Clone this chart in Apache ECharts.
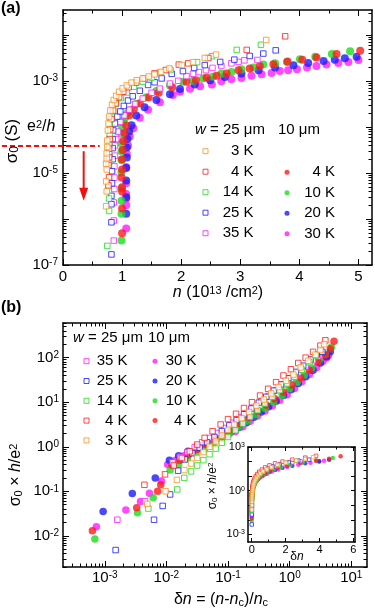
<!DOCTYPE html>
<html>
<head>
<meta charset="utf-8">
<script src="https://cdn.jsdelivr.net/npm/echarts@6/dist/echarts.min.js"></script>
<style>
html, body { margin: 0; padding: 0; background: #fff; }
#chart { width: 375px; height: 612px; }
</style>
</head>
<body>
<div id="chart"></div>
<script>
const FONT = '"Liberation Sans", Arial, Helvetica, sans-serif';
const ORANGE = '#f7941d', RED = '#ff1a1a', GREEN = '#1edc1e', BLUE = '#1a1aff', MAGENTA = '#ff1aff';

// e^2/h in S
const E2H = 3.87e-5;

// ---- (a) n (10^13 /cm^2) vs sigma0 (S) ----
// w = 25 um (open squares)
const a25_3K = [[0.73,1.9e-6],[0.74,4.0e-6],[0.73,6.6e-6],[0.74,1.2e-5],[0.73,1.6e-5],[0.74,2.1e-5],[0.74,2.7e-5],[0.75,3.7e-5],[0.75,5.1e-5],[0.76,8.5e-5],[0.77,1.2e-4],[0.78,1.7e-4],[0.8,2.3e-4],[0.83,3.1e-4],[0.86,3.9e-4],[0.9,4.8e-4],[0.95,5.9e-4],[1.01,7.0e-4],[1.08,8.1e-4],[1.16,9.3e-4],[1.25,1.05e-3],[1.35,1.15e-3],[1.45,1.27e-3],[1.55,1.4e-3],[1.66,1.6e-3],[1.8,1.9e-3],[2.01,2.25e-3],[2.2,2.6e-3],[2.4,3.2e-3],[2.59,3.8e-3],[3.44,7.9e-3]];
const a25_4K = [[0.77,5.4e-6],[0.78,8.1e-6],[0.77,1.5e-5],[0.78,2.2e-5],[0.78,3.4e-5],[0.79,5.5e-5],[0.8,9e-5],[0.82,1.5e-4],[0.85,2.3e-4],[0.89,3.3e-4],[0.95,4.5e-4],[1.02,5.9e-4],[1.11,7.4e-4],[1.24,9.3e-4],[1.38,1.15e-3],[1.55,1.48e-3],[1.74,1.75e-3],[1.96,2.3e-3],[2.12,2.45e-3],[2.46,3.2e-3],[3.11,4.8e-3],[3.76,9.5e-3]];
const a25_14K = [[0.75,2.6e-7],[0.78,1.5e-6],[0.78,2.8e-6],[0.77,4.2e-6],[0.78,1.7e-5],[0.78,2.6e-5],[0.78,4.1e-5],[0.79,6.5e-5],[0.79,1.1e-4],[0.8,1.5e-4],[0.84,2.2e-4],[0.9,3.2e-4],[0.98,4.3e-4],[1.08,5.7e-4],[1.2,7.6e-4],[1.35,9.8e-4],[1.5,1.2e-3],[1.64,1.55e-3],[1.82,1.75e-3],[2.27,2.6e-3],[2.52,3.5e-3],[2.94,4.8e-3],[3.35,6.2e-3]];
const a25_25K = [[0.82,1.7e-7],[0.82,8.5e-7],[0.82,2.1e-6],[0.82,3.2e-6],[0.83,6e-6],[0.83,1.1e-5],[0.84,2e-5],[0.84,3.5e-5],[0.84,5.5e-5],[0.85,8.5e-5],[0.88,1.2e-4],[0.92,1.7e-4],[0.97,2.2e-4],[1.03,2.9e-4],[1.1,3.8e-4],[1.18,4.7e-4],[1.3,6.2e-4],[1.44,8.3e-4],[1.55,9.5e-4],[1.67,1.15e-3],[1.84,1.45e-3],[2.03,1.66e-3],[2.22,1.95e-3],[2.4,2.24e-3],[2.66,2.63e-3],[2.9,2.95e-3],[3.16,3.55e-3],[3.39,4.0e-3],[3.6,4.7e-3]];
const a25_35K = [[0.86,3.4e-7],[0.86,9.3e-7],[0.86,2.3e-6],[0.87,4.5e-6],[0.87,8e-6],[0.87,1.4e-5],[0.88,2.4e-5],[0.88,4e-5],[0.9,5.5e-5],[0.93,8e-5],[0.97,1.3e-4],[1.04,1.8e-4],[1.12,2.4e-4],[1.22,3.2e-4],[1.35,4.2e-4],[1.5,5.6e-4],[1.64,6.9e-4],[1.81,8.9e-4],[1.95,1.02e-3],[2.09,1.29e-3],[2.2,1.45e-3],[2.3,1.58e-3],[2.42,1.74e-3],[2.53,1.95e-3],[2.68,2.15e-3],[2.85,2.45e-3],[2.97,2.63e-3],[3.07,2.85e-3],[3.29,2.9e-3]];
// w = 10 um (filled circles)
const a10_4K = [[1.0,4.9e-7],[1.0,1.7e-6],[1.0,4.0e-6],[1.0,4.9e-6],[0.99,8e-6],[1.0,1.2e-5],[1.0,2e-5],[1.01,3.2e-5],[1.02,5e-5],[1.04,7.5e-5],[1.07,1.1e-4],[1.12,1.8e-4],[1.2,2.5e-4],[1.3,3.3e-4],[1.45,4.4e-4],[1.62,5.6e-4],[1.85,7.4e-4],[2.09,9.8e-4],[2.25,1.05e-3],[2.43,1.2e-3],[2.6,1.32e-3],[2.77,1.48e-3],[2.97,1.74e-3],[3.16,1.9e-3],[3.33,2.14e-3],[3.56,2.34e-3],[3.8,2.7e-3],[4.05,2.95e-3],[4.29,3.3e-3],[4.63,3.9e-3],[5.03,4.6e-3]];
const a10_10K = [[0.99,3.4e-7],[0.99,1.3e-6],[0.99,2.5e-6],[0.99,4.6e-6],[0.99,1.05e-5],[0.99,1.9e-5],[0.99,3e-5],[0.99,4.4e-5],[0.99,7.2e-5],[1.0,1e-4],[1.02,1.3e-4],[1.05,1.6e-4],[1.09,2.0e-4],[1.13,2.3e-4],[1.24,3.2e-4],[1.41,4.5e-4],[1.58,6.1e-4],[1.81,8.1e-4],[2.03,9.8e-4],[2.2,1.02e-3],[2.37,1.15e-3],[2.54,1.26e-3],[2.68,1.48e-3],[2.85,1.58e-3],[3.02,1.82e-3],[3.22,2.0e-3],[3.39,2.3e-3],[3.59,2.45e-3],[3.79,2.63e-3],[4.01,3.0e-3],[4.27,3.4e-3],[4.55,3.9e-3],[4.86,4.5e-3]];
const a10_20K = [[1.07,1.3e-6],[1.07,3e-6],[1.07,6.9e-6],[1.07,1.3e-5],[1.08,2.2e-5],[1.08,3.6e-5],[1.09,5.5e-5],[1.12,8e-5],[1.16,1.1e-4],[1.24,1.8e-4],[1.38,2.7e-4],[1.58,3.9e-4],[1.81,5.2e-4],[1.98,6.8e-4],[2.23,8.5e-4],[2.49,1.05e-3],[2.74,1.23e-3],[3.02,1.48e-3],[3.31,1.74e-3],[3.59,2.0e-3],[3.9,2.24e-3],[4.15,2.5e-3],[4.41,2.75e-3],[4.6,2.95e-3],[4.77,3.16e-3],[4.97,3.4e-3]];
const a10_30K = [[1.07,6.2e-7],[1.07,2e-6],[1.07,2.8e-6],[1.07,3.5e-6],[1.07,6e-6],[1.07,1.35e-5],[1.08,2.6e-5],[1.1,4e-5],[1.13,6.3e-5],[1.19,9.5e-5],[1.3,1.6e-4],[1.44,2.4e-4],[1.64,3.5e-4],[1.86,5.0e-4],[1.98,5.9e-4],[2.15,6.9e-4],[2.32,7.8e-4],[2.52,8.5e-4],[2.68,1.0e-3],[2.85,1.1e-3],[3.02,1.17e-3],[3.19,1.32e-3],[3.36,1.41e-3],[3.53,1.51e-3],[3.67,1.66e-3],[3.81,1.74e-3],[3.96,1.82e-3],[4.13,2.0e-3],[4.29,2.14e-3],[4.46,2.3e-3],[4.66,2.5e-3],[4.83,2.63e-3],[5.0,2.9e-3]];

// ---- (b) dn = (n-nc)/nc vs sigma0*h/e^2 ----
const b25_35K = [[1.6e-3,0.023],[4.5e-3,0.06],[0.0126,0.45],[0.0166,0.59],[0.0219,0.76],[0.0288,0.98],[0.038,1.26],[0.0501,1.58],[0.0661,2.04],[0.0871,2.63],[0.115,3.47],[0.151,4.57],[0.2,6.03],[0.263,7.94],[0.347,10.5],[0.457,13.8],[0.603,18.6],[0.794,25.1],[1.05,33.9],[1.38,45.7],[1.82,63.1],[2.4,87.1],[2.88,107]];
const b25_25K = [[1.5e-3,0.0048],[6.3e-3,0.023],[8.7e-3,0.047],[0.0115,0.085],[0.0155,0.29],[0.02,0.52],[0.0263,0.72],[0.0347,0.95],[0.0457,1.26],[0.0603,1.66],[0.0794,2.24],[0.105,3.02],[0.138,3.98],[0.182,5.37],[0.24,7.24],[0.316,9.77],[0.417,13.2],[0.55,18.2],[0.724,25.1],[0.955,34.7],[1.26,47.9],[1.66,66.1],[2.19,91.2],[2.75,117],[3.39,135]];
const b25_14K = [[5.1e-3,0.041],[0.015,0.11],[0.0195,0.2],[0.0251,0.28],[0.0316,0.38],[0.0398,0.5],[0.0501,0.68],[0.0631,0.91],[0.0794,1.23],[0.1,1.66],[0.132,2.34],[0.174,3.31],[0.229,4.68],[0.302,6.61],[0.398,9.33],[0.525,13.2],[0.692,18.6],[0.912,26.3],[1.2,37.2],[1.58,53.7],[2.09,79.4],[2.63,112],[3.16,158]];
const b25_4K = [[4.4e-3,0.14],[9.5e-3,0.24],[0.0132,0.38],[0.0178,0.56],[0.024,0.79],[0.0316,1.12],[0.0417,1.58],[0.0562,2.24],[0.0759,3.16],[0.1,4.17],[0.135,5.5],[0.182,7.4],[0.245,10],[0.331,14.1],[0.447,20],[0.603,28.2],[0.794,39.8],[1.05,55],[1.38,75.9],[1.82,100],[2.4,135],[3.16,186],[3.8,245]];
const b25_3K = [[4.9e-3,0.052],[9.7e-3,0.1],[0.0148,0.18],[0.0195,0.3],[0.0251,0.42],[0.0316,0.56],[0.0398,0.76],[0.0501,1.0],[0.0631,1.32],[0.0794,1.78],[0.1,2.4],[0.126,3.16],[0.166,4.37],[0.219,6.03],[0.288,8.32],[0.38,11.5],[0.501,15.8],[0.661,21.9],[0.871,30.2],[1.15,41.7],[1.51,60.3],[2.0,85.1],[2.63,117],[3.16,148],[3.63,200]];
const b10_30K = [[7.3e-4,0.016],[2.2e-3,0.038],[3.8e-3,0.059],[5.3e-3,0.091],[8.3e-3,0.17],[0.0105,0.4],[0.0141,0.5],[0.0191,0.63],[0.0251,0.76],[0.0331,0.91],[0.0437,1.12],[0.0575,1.35],[0.0759,1.58],[0.1,1.82],[0.132,2.19],[0.174,2.82],[0.229,3.72],[0.302,4.9],[0.398,6.31],[0.525,8.3],[0.692,11.0],[0.912,14.8],[1.2,20.4],[1.58,28.8],[2.09,41.7],[2.75,60.3],[3.47,83.2],[3.98,100],[4.27,112]];
const b10_20K = [[9.4e-4,0.035],[2.8e-3,0.089],[6.6e-3,0.2],[0.0112,0.5],[0.0158,0.63],[0.0224,0.79],[0.0316,1.0],[0.0437,1.2],[0.0603,1.45],[0.0832,1.74],[0.112,2.14],[0.151,2.69],[0.2,3.47],[0.263,4.57],[0.347,6.03],[0.457,7.94],[0.603,10.5],[0.794,14.1],[1.05,19.1],[1.38,26.3],[1.82,37.2],[2.4,52.5],[3.16,75.9],[3.98,105],[4.57,135]];
const b10_10K = [[6.9e-4,0.0085],[3.4e-3,0.033],[6.1e-3,0.072],[0.0115,0.3],[0.0158,0.4],[0.0219,0.54],[0.0302,0.71],[0.0417,0.91],[0.0575,1.2],[0.0794,1.58],[0.11,2.09],[0.151,2.82],[0.209,3.8],[0.288,5.25],[0.398,7.24],[0.55,10],[0.759,14.1],[1.0,20],[1.32,28.2],[1.74,40.7],[2.29,58.9],[3.02,87.1],[3.8,120],[4.79,174]];
const b10_4K = [[6.3e-4,0.013],[3.3e-3,0.043],[7.2e-3,0.1],[8.1e-3,0.14],[0.0123,0.39],[0.0166,0.5],[0.0229,0.66],[0.0316,0.87],[0.0437,1.12],[0.0603,1.45],[0.0832,1.86],[0.115,2.45],[0.158,3.31],[0.219,4.57],[0.302,6.31],[0.417,8.71],[0.575,12],[0.794,17],[1.1,24.5],[1.51,35.5],[2.09,52.5],[2.88,79.4],[3.8,115],[4.57,158],[5.25,234]];

// legend labels
const LABELS = {
  'a-sq-3': '3 K', 'a-sq-4': '4 K', 'a-sq-14': '14 K', 'a-sq-25': '25 K', 'a-sq-35': '35 K',
  'a-ci-4': '4 K', 'a-ci-10': '10 K', 'a-ci-20': '20 K', 'a-ci-30': '30 K',
  'b-sq-35': '35 K', 'b-sq-25': '25 K', 'b-sq-14': '14 K', 'b-sq-4': '4 K', 'b-sq-3': '3 K',
  'b-ci-30': '30 K', 'b-ci-20': '20 K', 'b-ci-10': '10 K', 'b-ci-4': '4 K'
};

function logTicks(lo, hi) {
  const major = [], minor = [];
  for (let e = Math.floor(Math.log10(lo)); e <= Math.ceil(Math.log10(hi)); e++) {
    const d = Math.pow(10, e);
    if (d >= lo * 0.999 && d <= hi * 1.001) major.push(d);
    for (let k = 2; k <= 9; k++) {
      if (k * d >= lo && k * d <= hi) minor.push(k * d);
    }
  }
  return { major, minor };
}

function powLabel(vals, size, margin) {
  return {
    show: true, customValues: vals, margin, color: '#000', fontFamily: FONT, fontSize: size,
    formatter: v => '{b|10}{s|' + Math.round(Math.log10(v)) + '}',
    rich: {
      b: { fontSize: size, fontFamily: FONT, color: '#000' },
      s: { fontSize: Math.round(size * 0.68), fontFamily: FONT, color: '#000', verticalAlign: 'top', lineHeight: Math.round(size * 0.55) }
    }
  };
}

function numLabel(vals, size, margin) {
  return { show: true, customValues: vals, margin, color: '#000', fontFamily: FONT, fontSize: size };
}

// 4 axes for one side pair: main + minor ticks, then mirrored
function axes(dim, grid, type, min, max, major, minor, lens, label) {
  const pos = dim === 'x' ? ['bottom', 'top'] : ['left', 'right'];
  const out = [];
  pos.forEach((p, i) => {
    const base = { gridIndex: grid, type, min, max, position: p, splitLine: { show: false }, silent: true };
    out.push(Object.assign({}, base, {
      axisLine: { show: true, onZero: false, lineStyle: { color: '#000', width: 1.5 } },
      axisTick: { show: true, inside: true, length: lens[0], customValues: major, lineStyle: { color: '#000', width: 1 } },
      axisLabel: i === 0 ? label : { show: false }
    }));
    out.push(Object.assign({}, base, {
      axisLine: { show: false, onZero: false },
      axisTick: { show: minor.length > 0, inside: true, length: lens[1], customValues: minor, lineStyle: { color: '#000', width: 1 } },
      axisLabel: { show: false }
    }));
  });
  return out;
}

const aY = logTicks(1e-7, 0.0355);
const bX = logTicks(2.1e-4, 18);
const bY = logTicks(0.002, 600);
const iY = logTicks(3e-4, 1000);

const xAxis = [].concat(
  axes('x', 0, 'value', 0, 5.23, [0, 1, 2, 3, 4, 5], [0.5, 1.5, 2.5, 3.5, 4.5], [6, 3.5], numLabel([0, 1, 2, 3, 4, 5], 15, 4)),
  axes('x', 1, 'log', 2.1e-4, 18, bX.major, bX.minor, [6, 3.5], powLabel([1e-3, 1e-2, 1e-1, 1, 10], 15, 3)),
  axes('x', 2, 'value', -0.22, 6.1, [0, 2, 4, 6], [1, 3, 5], [4, 2.5], numLabel([0, 2, 4, 6], 11, 2))
);
const yAxis = [].concat(
  axes('y', 0, 'log', 1e-7, 0.0355, aY.major, aY.minor, [6, 3.5], powLabel([1e-7, 1e-5, 1e-3], 15, 5)),
  axes('y', 1, 'log', 0.002, 600, bY.major, bY.minor, [6, 3.5], powLabel([1e-2, 1e-1, 1, 10, 100], 15, 4)),
  axes('y', 2, 'log', 3e-4, 1000, iY.major, [], [4, 2.5], powLabel([1e-3, 1, 1e3], 11, 3))
);

function sq(name, data, color, ax, size, bw) {
  return {
    name, type: 'scatter', data, xAxisIndex: ax, yAxisIndex: ax, symbol: 'rect', symbolSize: size,
    itemStyle: { color: '#fff', borderColor: color, borderWidth: bw }, emphasis: { disabled: true }, silent: true, z: 3
  };
}
function ci(name, data, color, ax, size) {
  return {
    name, type: 'scatter', data, xAxisIndex: ax, yAxisIndex: ax, symbol: 'circle', symbolSize: size,
    itemStyle: { color }, emphasis: { disabled: true }, silent: true, z: 2
  };
}

const bSets = [
  ['ci-30', b10_30K, MAGENTA, 0], ['ci-20', b10_20K, BLUE, 0], ['ci-10', b10_10K, GREEN, 0], ['ci-4', b10_4K, RED, 0],
  ['sq-35', b25_35K, MAGENTA, 1], ['sq-25', b25_25K, BLUE, 1], ['sq-14', b25_14K, GREEN, 1], ['sq-4', b25_4K, RED, 1], ['sq-3', b25_3K, ORANGE, 1]
];

const series = [
  ci('a-ci-30', a10_30K, MAGENTA, 0, 8), ci('a-ci-20', a10_20K, BLUE, 0, 8),
  ci('a-ci-10', a10_10K, GREEN, 0, 8), ci('a-ci-4', a10_4K, RED, 0, 8),
  sq('a-sq-35', a25_35K, MAGENTA, 0, 5.5, 1), sq('a-sq-25', a25_25K, BLUE, 0, 5.5, 1),
  sq('a-sq-14', a25_14K, GREEN, 0, 5.5, 1), sq('a-sq-4', a25_4K, RED, 0, 5.5, 1),
  sq('a-sq-3', a25_3K, ORANGE, 0, 5.5, 1)
];
bSets.forEach(([k, d, c, isSq]) => {
  series.push(isSq ? sq('b-' + k, d, c, 4, 5.5, 1) : ci('b-' + k, d, c, 4, 7.5));
});
bSets.forEach(([k, d, c, isSq]) => {
  series.push(isSq ? sq('i-' + k, d, c, 8, 3.5, 0.9) : ci('i-' + k, d, c, 8, 4.5));
});

function legendCol(names, left, top, gap, width, icon) {
  return {
    data: names.map(n => ({ name: n, icon })),
    orient: 'vertical', left, top, itemGap: gap, itemWidth: 5, itemHeight: 5, padding: 0,
    selectedMode: false, align: 'left',
    itemStyle: { borderWidth: 1 },
    formatter: n => '{t|' + LABELS[n] + '}',
    textStyle: {
      color: '#000', fontFamily: FONT, fontSize: 15,
      rich: { t: { width, align: 'right', fontSize: 15, fontFamily: FONT, color: '#000', lineHeight: 16 } }
    }
  };
}

const option = {
  animation: false,
  backgroundColor: '#fff',
  grid: [
    { left: 63, top: 10, width: 309, height: 255 },
    { left: 63, top: 323, width: 304, height: 244 },
    { left: 248, top: 447, width: 107, height: 95, show: true, backgroundColor: '#fff', borderWidth: 0 }
  ],
  xAxis, yAxis, series,
  legend: [
    legendCol(['a-sq-3', 'a-sq-4', 'a-sq-14', 'a-sq-25', 'a-sq-35'], 202.5, 143.7, 5.5, 40.5, 'rect'),
    legendCol(['a-ci-4', 'a-ci-10', 'a-ci-20', 'a-ci-30'], 284.5, 164.7, 5.5, 40.5, 'circle'),
    legendCol(['b-sq-35', 'b-sq-25', 'b-sq-14', 'b-sq-4', 'b-sq-3'], 83.5, 353.7, 4.8, 33.5, 'rect'),
    legendCol(['b-ci-30', 'b-ci-20', 'b-ci-10', 'b-ci-4'], 152.5, 353.7, 4.8, 34, 'circle')
  ]
};

const chart = echarts.init(document.getElementById('chart'));
chart.setOption(option);

// rich text helpers for titles
function rich(size) {
  const sub = Math.round(size * 0.68);
  return {
    i: { fontSize: size, fontFamily: FONT, fontStyle: 'italic', fill: '#000' },
    s: { fontSize: sub, fontFamily: FONT, verticalAlign: 'top', lineHeight: Math.round(size * 0.55), fill: '#000' },
    d: { fontSize: sub, fontFamily: FONT, verticalAlign: 'bottom', lineHeight: Math.round(size * 0.5), fill: '#000' }
  };
}
function txt(x, y, text, size, opt) {
  opt = opt || {};
  return {
    type: 'text', x, y, rotation: opt.rot || 0, silent: true, z: 10,
    style: {
      text, fill: '#000', fontSize: size, fontFamily: FONT, fontWeight: opt.bold ? 'bold' : 'normal',
      align: opt.align || 'center', textAlign: opt.align || 'center',
      verticalAlign: 'middle', textVerticalAlign: 'middle', rich: rich(size)
    }
  };
}

// e^2/h dashed line and arrow
const yE = chart.convertToPixel({ yAxisIndex: 0 }, E2H);
const xEnd = chart.convertToPixel({ xAxisIndex: 0 }, 0.62);
const xArr = chart.convertToPixel({ xAxisIndex: 0 }, 0.35);
const yArr0 = chart.convertToPixel({ yAxisIndex: 0 }, 3.0e-5);
const yArr1 = chart.convertToPixel({ yAxisIndex: 0 }, 2.5e-6);

chart.setOption({
  graphic: [
    txt(1, 9, '(a)', 16, { align: 'left', bold: true }),
    txt(1, 308, '(b)', 16, { align: 'left', bold: true }),
    txt(12, 141, 'σ{d|0} (S)', 17, { rot: Math.PI / 2 }),
    txt(27, 127, 'e{s|2}/{i|h}', 16, { align: 'left' }),
    txt(218, 293, '{i|n} (10{s|13} /cm{s|2})', 16),
    txt(16, 475, 'σ{d|0} × {i|h}/e{s|2}', 16, { rot: Math.PI / 2 }),
    txt(221, 600, 'δ{i|n} = ({i|n}-{i|n}{d|c})/{i|n}{d|c}', 16),
    txt(213, 486, 'σ{d|0} × {i|h}/e{s|2}', 12, { rot: Math.PI / 2 }),
    txt(297, 557, 'δ{i|n}', 12),
    txt(195, 130, '{i|w} = 25 μm', 15, { align: 'left' }),
    txt(278, 130, '10 μm', 15, { align: 'left' }),
    txt(73, 338, '{i|w} = 25 μm', 15, { align: 'left' }),
    txt(148, 338, '10 μm', 15, { align: 'left' }),
    {
      type: 'line', silent: true, z: 5,
      shape: { x1: 2, y1: yE, x2: xEnd, y2: yE },
      style: { stroke: '#f01010', lineWidth: 2, lineDash: [5, 3] }
    },
    {
      type: 'line', silent: true, z: 5,
      shape: { x1: xArr, y1: yArr0, x2: xArr, y2: yArr1 - 8 },
      style: { stroke: '#f01010', lineWidth: 2 }
    },
    {
      type: 'polygon', silent: true, z: 5,
      shape: { points: [[xArr, yArr1], [xArr - 4.5, yArr1 - 13], [xArr + 4.5, yArr1 - 13]] },
      style: { fill: '#f01010' }
    }
  ]
});
</script>
</body>
</html>
